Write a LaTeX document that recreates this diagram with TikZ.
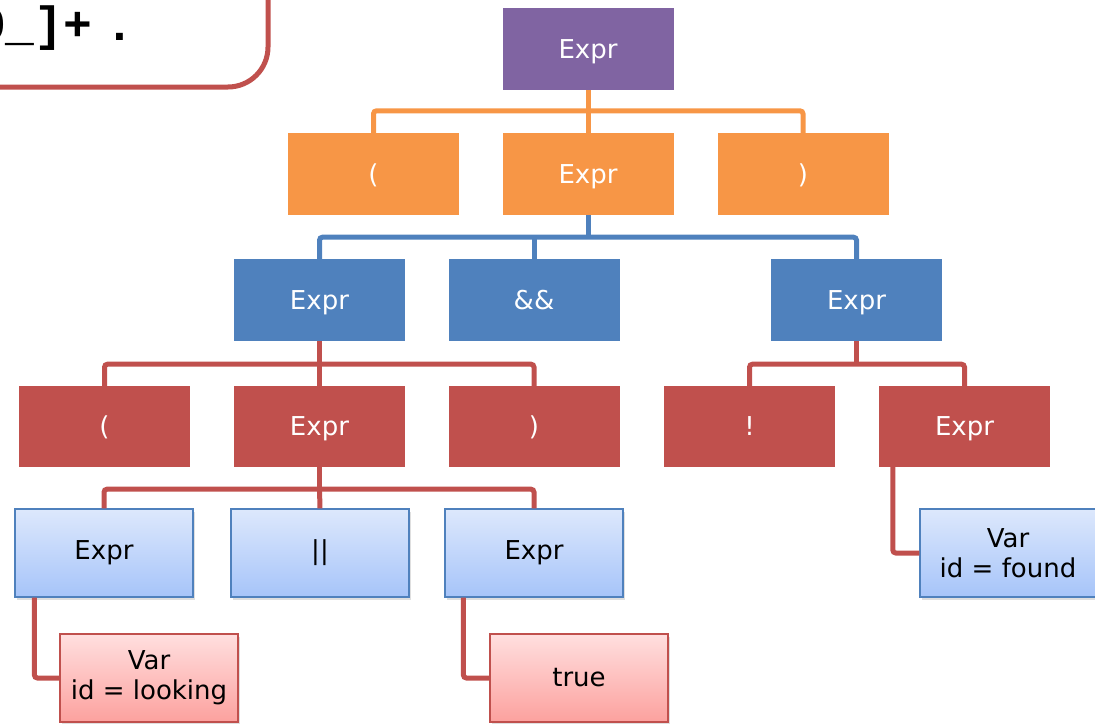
\documentclass[tikz,border=0pt]{standalone}
\usepackage{fontspec}
\setmainfont{DejaVu Sans}
\newfontfamily\codefont{Liberation Mono}[BoldFont={Liberation Mono Bold}]
\usetikzlibrary{shadows}
\definecolor{cpurple}{HTML}{8064A2}
\definecolor{corange}{HTML}{F79646}
\definecolor{cblue}{HTML}{4F81BD}
\definecolor{cred}{HTML}{C0504D}
\definecolor{lbtop}{HTML}{DDE8FC}
\definecolor{lbbot}{HTML}{A6C4F9}
\definecolor{pktop}{HTML}{FFDFDF}
\definecolor{pkbot}{HTML}{FCA19E}
\tikzset{
  box/.style={rectangle, inner sep=0pt, minimum width=171pt, minimum height=82pt,
    font=\fontsize{26}{30}\selectfont, text=white, text height=18pt, text depth=0pt},
  pbox/.style={box, fill=cpurple},
  obox/.style={box, fill=corange},
  bbox/.style={box, fill=cblue},
  rbox/.style={box, fill=cred, minimum height=81pt},
  leaf/.style={rectangle, inner sep=0pt, align=center, text=black,
    minimum width=178pt, minimum height=88pt,
    line width=1.2pt, drop shadow={opacity=0.25, shadow xshift=2pt, shadow yshift=-3pt},
    font=\fontsize{26}{30}\selectfont},
  lbox/.style={leaf, draw=cblue, top color=lbtop, bottom color=lbbot},
  kbox/.style={leaf, draw=cred, top color=pktop, bottom color=pkbot},
  link/.style={line width=5pt, rounded corners=3pt},
  olink/.style={link, draw=corange},
  blink/.style={link, draw=cblue},
  rlink/.style={link, draw=cred},
}
\begin{document}
\begin{tikzpicture}[x=1pt, y=-1pt]
\useasboundingbox (0,0) rectangle (1095,723);
\begin{scope}
\clip (0,0) rectangle (1095,723);

% code box in the upper left corner
\draw[cred, line width=5pt, rounded corners=40pt] (-30,87) -| (268,-30);
\node[anchor=base west, inner sep=0pt, font=\codefont\bfseries\fontsize{48}{50}\selectfont]
  (code) at (-23.2,40) {0\_]+\kern13pt.};

% tree nodes
\node[pbox] (root) at (588,49) {Expr};

\node[obox] (o1) at (373.5,174) {(};
\node[obox] (o2) at (588,174) {Expr};
\node[obox] (o3) at (803,174) {)};

\node[bbox] (b1) at (319.5,300) {Expr};
\node[bbox] (b2) at (534,300) {\&\&};
\node[bbox] (b3) at (856.5,300) {Expr};

\node[rbox] (r1) at (104.5,426.5) {(};
\node[rbox] (r2) at (319.5,426.5) {Expr};
\node[rbox] (r3) at (534,426.5) {)};
\node[rbox] (r4) at (749.5,426.5) {!};
\node[rbox] (r5) at (964.5,426.5) {Expr};

\node[lbox] (l1) at (104,553) {Expr};
\node[lbox] (l2) at (320,553) {||};
\node[lbox] (l3) at (534,553) {Expr};
\node[lbox, minimum width=176pt] (vf) at (1008,553) {Var\\id = found};

\node[kbox] (vl) at (149,678) {Var\\id = looking};
\node[kbox] (vt) at (579,678) {true};

% connectors
\draw[olink] (root.south) -- (o2.north);
\draw[olink] (o1.north) -- ++(0,-22) -| (o3.north);

\draw[blink] (o2.south) -- ++(0,22) coordinate (bus1);
\draw[blink] (b1.north) |- (bus1) -| (b3.north);
\draw[blink] (b2.north) -- (b2.north |- bus1);

\draw[rlink] (b1.south) -- ++(0,23) coordinate (bus2);
\draw[rlink] (r1.north) |- (bus2) -| (r3.north);
\draw[rlink] (r2.north) -- (bus2);

\draw[rlink] (b3.south) -- ++(0,23) coordinate (bus3);
\draw[rlink] (r4.north) |- (bus3) -| (r5.north);

\draw[rlink] (r2.south) -- ++(0,22) coordinate (bus4);
\draw[rlink] (l1.north) |- (bus4) -| (l3.north);
\draw[rlink] (l2.north) -- (bus4);

\draw[rlink] ([xshift=14pt]r5.south west) |- (vf.west);
\draw[rlink] ([xshift=20pt]l1.south west) |- (vl.west);
\draw[rlink] ([xshift=19pt]l3.south west) |- (vt.west);
\end{scope}
\end{tikzpicture}
\end{document}
